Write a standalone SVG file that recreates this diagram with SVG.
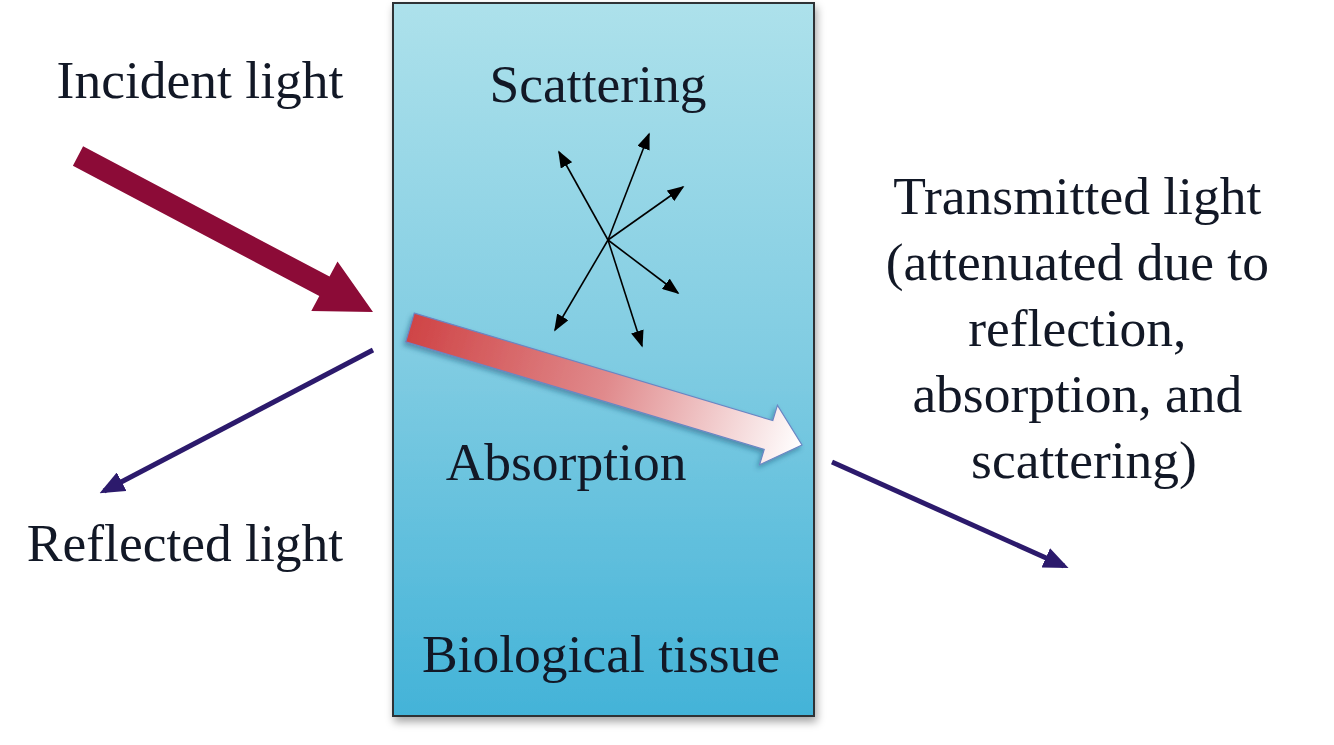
<svg xmlns="http://www.w3.org/2000/svg" width="1334" height="745" viewBox="0 0 1334 745">
  <defs>
    <linearGradient id="tissueGrad" x1="0" y1="0" x2="0" y2="1">
      <stop offset="0" stop-color="#ade1eb"/>
      <stop offset="0.5" stop-color="#80cce2"/>
      <stop offset="1" stop-color="#43b3d8"/>
    </linearGradient>
    <linearGradient id="beamGrad" gradientUnits="userSpaceOnUse" x1="410" y1="327" x2="802" y2="445">
      <stop offset="0" stop-color="#cf4446"/>
      <stop offset="0.5" stop-color="#e08a8c"/>
      <stop offset="1" stop-color="#ffffff"/>
    </linearGradient>
    <filter id="shadow" x="-10%" y="-10%" width="120%" height="120%">
      <feDropShadow dx="2" dy="5" stdDeviation="4" flood-color="#000" flood-opacity="0.35"/>
    </filter>
    <filter id="beamShadow" x="-10%" y="-30%" width="120%" height="160%">
      <feDropShadow dx="-2" dy="3" stdDeviation="2.5" flood-color="#1a4a70" flood-opacity="0.45"/>
    </filter>
    <marker id="scatHead" viewBox="0 0 10 10" refX="9" refY="5" markerWidth="17" markerHeight="13" orient="auto" markerUnits="userSpaceOnUse" preserveAspectRatio="none">
      <path d="M0,0 L10,5 L0,10 Z" fill="#000"/>
    </marker>
    <marker id="blueHead" viewBox="0 0 10 10" refX="8" refY="5" markerWidth="25" markerHeight="21" orient="auto" markerUnits="userSpaceOnUse" preserveAspectRatio="none">
      <path d="M0,0 L10,5 L0,10 Z" fill="#2c1a6c"/>
    </marker>
  </defs>
  <style>
    .lbl { font-family: "Liberation Serif", "Times New Roman", serif; font-size: 53.5px; fill: #121826; }
    .scat { stroke: #000; stroke-width: 1.6; fill: none; }
    .blue { stroke: #2c1a6c; stroke-width: 5; fill: none; }
  </style>
  <rect width="1334" height="745" fill="#ffffff"/>

  <g id="tissue">
    <rect x="393" y="3" width="421" height="713" fill="url(#tissueGrad)" stroke="#2e3236" stroke-width="2" filter="url(#shadow)"/>
    <text class="lbl" x="601" y="672" text-anchor="middle">Biological tissue</text>
  </g>

  <g id="scattering">
    <text class="lbl" x="598" y="102" text-anchor="middle">Scattering</text>
  </g>

  <g id="absorption">
    <text class="lbl" x="566" y="480" text-anchor="middle">Absorption</text>
  </g>

  <g id="incident">
    <text class="lbl" x="200" y="98" text-anchor="middle">Incident light</text>
  </g>

  <g id="reflected">
    <text class="lbl" x="185" y="561" text-anchor="middle">Reflected light</text>
  </g>

  <g id="transmitted">
    <text class="lbl" text-anchor="middle">
      <tspan x="1084" y="214">Transmitted light</tspan>
      <tspan x="1084" y="280">(attenuated due to</tspan>
      <tspan x="1084" y="346">reflection,</tspan>
      <tspan x="1084" y="412">absorption, and</tspan>
      <tspan x="1084" y="478">scattering)</tspan>
    </text>
  </g>

  <g id="connectors">
    <polygon points="83.1,146.3 329.5,276.6 337.5,261.5 373,312 311.3,311.1 319.3,296 72.9,165.7" fill="#8c0b37"/>
    <polygon points="414.3,313.1 772.8,420.6 777.4,405.3 802,445 759.6,464.7 764.2,449.4 405.7,341.9" fill="url(#beamGrad)" stroke="#6a86c4" stroke-width="1.2" filter="url(#beamShadow)"/>
    <line class="blue" x1="373" y1="350" x2="104" y2="491" marker-end="url(#blueHead)"/>
    <line class="blue" x1="832" y1="462" x2="1064" y2="566" marker-end="url(#blueHead)"/>
    <line class="scat" x1="608" y1="240" x2="559" y2="152" marker-end="url(#scatHead)"/>
    <line class="scat" x1="608" y1="240" x2="649" y2="134" marker-end="url(#scatHead)"/>
    <line class="scat" x1="608" y1="240" x2="683" y2="187" marker-end="url(#scatHead)"/>
    <line class="scat" x1="608" y1="240" x2="678" y2="293" marker-end="url(#scatHead)"/>
    <line class="scat" x1="608" y1="240" x2="642" y2="346" marker-end="url(#scatHead)"/>
    <line class="scat" x1="608" y1="240" x2="555" y2="330" marker-end="url(#scatHead)"/>
  </g>
</svg>
